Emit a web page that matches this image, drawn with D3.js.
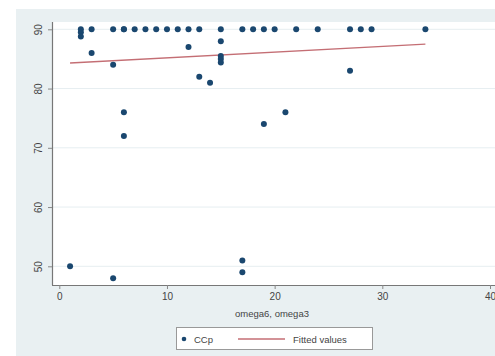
<!DOCTYPE html>
<html>
<head>
<meta charset="utf-8">
<script src="https://cdn.jsdelivr.net/npm/d3@7"></script>
<style>
  body { margin: 0; background: #fff; }
  text { font-family: "Liberation Sans", Arial, sans-serif; }
</style>
</head>
<body>
<div id="chart"></div>
<script>
// omega6, omega3 vs CCp
var omega = [2, 2, 2, 3, 3, 5, 5, 5, 6, 6, 6, 6, 7, 8, 9, 10, 11, 12, 12, 13, 13, 14,
             15, 15, 15, 15, 15, 17, 17, 17, 18, 19, 19, 20, 21, 22, 24, 27, 27, 28, 29, 34, 1];
var ccp   = [90, 89.5, 88.8, 90, 86, 90, 84, 48, 90, 90, 76, 72, 90, 90, 90, 90, 90, 90, 87, 90, 82, 81,
             90, 88, 85.5, 85, 84.4, 90, 51, 49, 90, 90, 74, 90, 76, 90, 90, 90, 83, 90, 90, 90, 50];
// fitted values at the ends of the range
var fitX = [1, 34];
var fitY = [84.3, 87.5];

var xTicks = [0, 10, 20, 30, 40];
var yTicks = [50, 60, 70, 80, 90];

var svgWidth = 495, svgHeight = 356;

var svg = d3.select("#chart").append("svg")
    .attr("width", svgWidth)
    .attr("height", svgHeight);

// graph background
svg.append("rect")
    .attr("x", 16).attr("y", 9)
    .attr("width", svgWidth - 16).attr("height", svgHeight - 9)
    .attr("fill", "#e9f0f2");

// plot region
svg.append("rect")
    .attr("x", 52).attr("y", 22)
    .attr("width", svgWidth - 52).attr("height", 285 - 22)
    .attr("fill", "#ffffff");

var xScale = d3.scaleLinear().domain([0, 40]).range([59.3, 490]);
var yScale = d3.scaleLinear().domain([50, 90]).range([266.3, 29.3]);

// grid lines
svg.append("g").selectAll("line")
    .data(yTicks)
    .enter()
    .append("line")
    .attr("x1", 53).attr("x2", svgWidth)
    .attr("y1", d => yScale(d)).attr("y2", d => yScale(d))
    .attr("stroke", "#e6eef1")
    .attr("stroke-width", 1);

// axes
var xAxis = d3.axisBottom(xScale).tickValues(xTicks).tickSize(4).tickPadding(4);
var yAxis = d3.axisLeft(yScale).tickValues(yTicks).tickSize(4).tickPadding(4);

var gx = svg.append("g")
    .attr("transform", "translate(0,285)")
    .call(xAxis);
gx.select(".domain").attr("d", "M52,0.5H" + svgWidth);

var gy = svg.append("g")
    .attr("transform", "translate(52,0)")
    .call(yAxis);
gy.select(".domain").attr("d", "M0.5,22V285");

svg.selectAll(".domain").attr("stroke", "#777").attr("stroke-width", 1.2);
svg.selectAll(".tick line").attr("stroke", "#888");
svg.selectAll(".tick text")
    .attr("font-size", "10px")
    .attr("fill", "#444");

// vertical y labels, like Stata
gy.selectAll(".tick text")
    .attr("text-anchor", "middle")
    .attr("x", 0)
    .attr("dy", 0)
    .attr("transform", "translate(-13,0) rotate(-90)")
    .attr("dominant-baseline", "middle");

// axis title
svg.append("text")
    .attr("x", 272).attr("y", 317)
    .attr("text-anchor", "middle")
    .attr("font-size", "9.5px")
    .attr("fill", "#444")
    .text("omega6, omega3");

// fitted line
var fitData = fitX.map((x, i) => [x, fitY[i]]);
svg.append("path")
    .datum(fitData)
    .attr("d", d3.line().x(d => xScale(d[0])).y(d => yScale(d[1])))
    .attr("fill", "none")
    .attr("stroke", "#c46e74")
    .attr("stroke-width", 1.4);

// points
svg.append("g").selectAll("circle")
    .data(omega)
    .enter()
    .append("circle")
    .attr("cx", d => xScale(d))
    .attr("cy", (d, i) => yScale(ccp[i]))
    .attr("r", 3)
    .attr("fill", "#1a476f");

// legend
var legend = svg.append("g");
legend.append("rect")
    .attr("x", 176.5).attr("y", 327.5)
    .attr("width", 196).attr("height", 22)
    .attr("fill", "#ffffff")
    .attr("stroke", "#999");
legend.append("circle")
    .attr("cx", 184).attr("cy", 339)
    .attr("r", 2.3)
    .attr("fill", "#1a476f");
legend.append("text")
    .attr("x", 194).attr("y", 342.5)
    .attr("font-size", "9.5px")
    .attr("fill", "#444")
    .text("CCp");
legend.append("line")
    .attr("x1", 238).attr("x2", 285)
    .attr("y1", 339).attr("y2", 339)
    .attr("stroke", "#c46e74")
    .attr("stroke-width", 1.4);
legend.append("text")
    .attr("x", 293).attr("y", 342.5)
    .attr("font-size", "9.5px")
    .attr("fill", "#444")
    .text("Fitted values");
</script>
</body>
</html>
